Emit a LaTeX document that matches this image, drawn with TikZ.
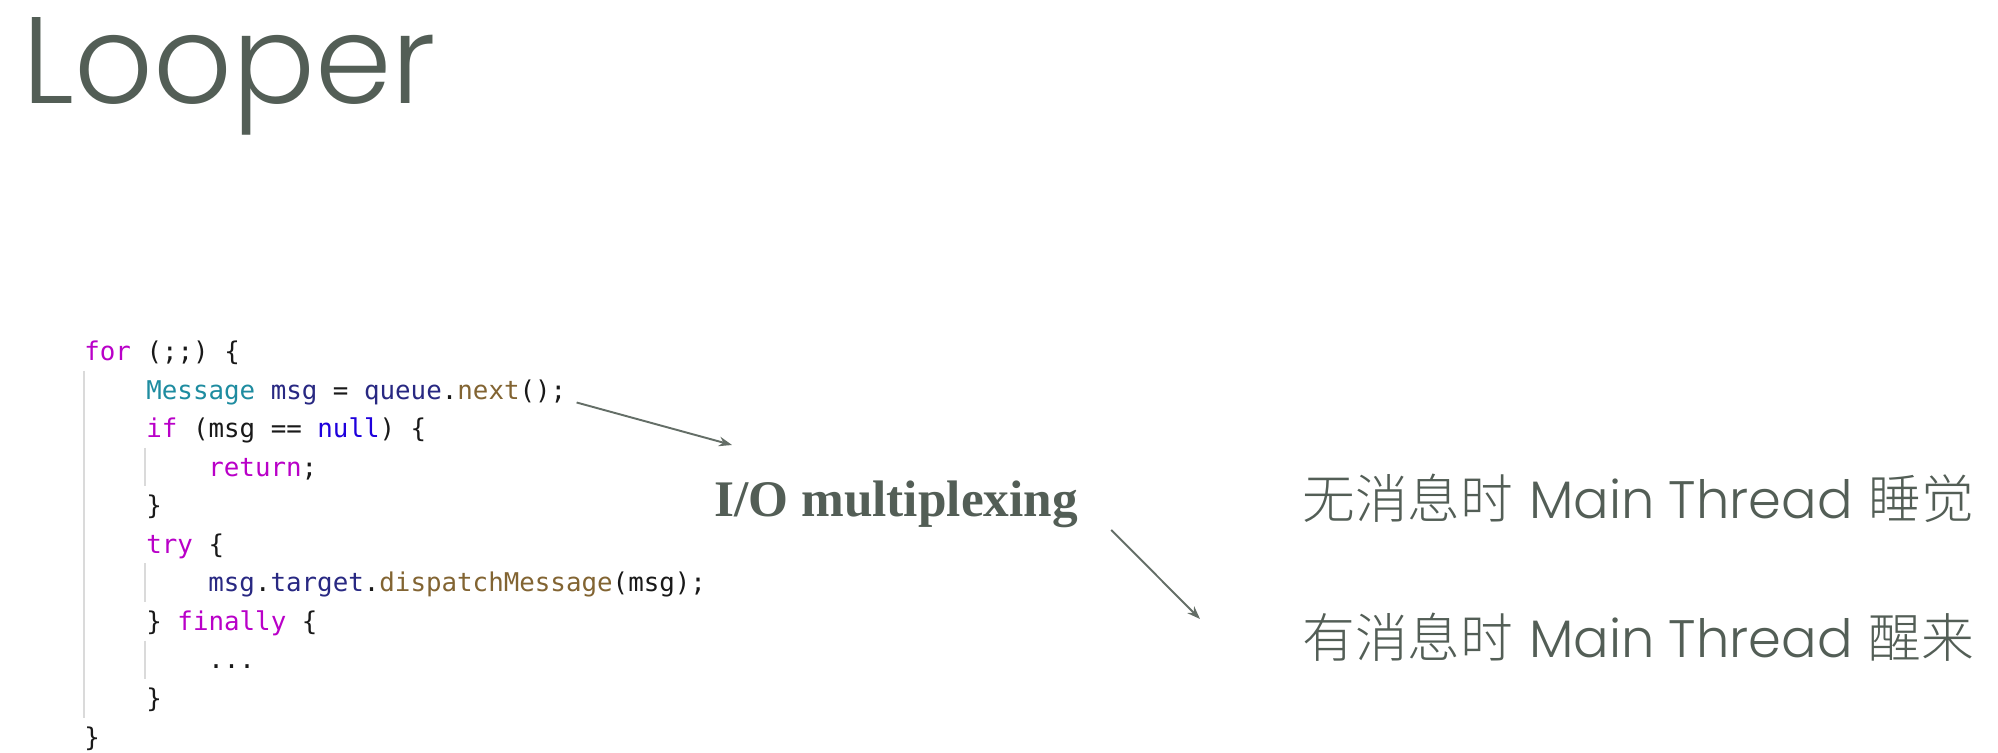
\documentclass[tikz,border=0pt]{standalone}
\usepackage{fontspec}
\usepackage{tikz}
\usetikzlibrary{arrows.meta, positioning, calc}
\setmonofont{DejaVu Sans Mono}
\newfontfamily\gothicfont{Poppins}[UprightFont=* Light]
\newfontfamily\cjkfont{Noto Sans CJK SC}[UprightFont=* Light]
\newfontfamily\boldserif{Liberation Serif}
\definecolor{grisverde}{RGB}{83,94,86}
\definecolor{flecha}{RGB}{100,110,103}
\definecolor{guia}{RGB}{218,218,218}
\definecolor{kwcolor}{RGB}{185,0,200}
\definecolor{typecolor}{RGB}{30,140,160}
\definecolor{varcolor}{RGB}{40,40,130}
\definecolor{nullcolor}{RGB}{30,0,220}
\definecolor{callcolor}{RGB}{130,100,50}
\newcommand{\kw}[1]{\textcolor{kwcolor}{#1}}
\newcommand{\ty}[1]{\textcolor{typecolor}{#1}}
\newcommand{\va}[1]{\textcolor{varcolor}{#1}}
\newcommand{\nl}[1]{\textcolor{nullcolor}{#1}}
\newcommand{\fn}[1]{\textcolor{callcolor}{#1}}
\tikzset{>={Stealth[length=7.5pt,width=5.5pt]}}

\begin{document}
\begin{tikzpicture}[
		code/.style={inner sep=0, anchor=base west, text=black!90, font=\ttfamily\fontsize{14.7}{17}\selectfont},
		msgline/.style={inner sep=0, anchor=base west, text=grisverde, font=\fontsize{30}{34}\selectfont},
		guide/.style={guia, line width=1.1pt}]
				
				\useasboundingbox (0,0) rectangle (39.96,15.04);
				
				\node [inner sep=0, anchor=base west, text=grisverde, font=\gothicfont\fontsize{70}{80}\selectfont] (title) at (0.44,12.96) {Looper};
				
				% code lines
				\node [code] (l0) at (1.68,7.82) {\kw{for} (;;) \{};
				\node [code] (lnext) at (2.92,7.05) {\ty{Message} \va{msg} = \va{queue}.\fn{next}();};
				\node [code] (l2) at (2.92,6.28) {\kw{if} (msg == \nl{null}) \{};
				\node [code] (l3) at (4.16,5.51) {\kw{return};};
				\node [code] (l4) at (2.92,4.74) {\}};
				\node [code] (l5) at (2.92,3.97) {\kw{try} \{};
				\node [code] (l6) at (4.16,3.20) {\va{msg}.\va{target}.\fn{dispatchMessage}(msg);};
				\node [code] (l7) at (2.92,2.43) {\} \kw{finally} \{};
				\node [code] (l8) at (4.16,1.66) {...};
				\node [code] (l9) at (2.92,0.89) {\}};
				\node [code] (l10) at (1.68,0.12) {\}};
				
				\draw [guide] (1.68,7.62) -- (1.68,0.69);
				\draw [guide] (2.90,6.08) -- (2.90,5.31);
				\draw [guide] (2.90,3.77) -- (2.90,3.00);
				\draw [guide] (2.90,2.23) -- (2.90,1.46);
				
				\node [inner sep=0, anchor=base west, text=grisverde, font=\boldserif\bfseries\fontsize{29.2}{33}\selectfont] (mux) at (14.28,4.70) {I/O multiplexing};
				
				\node [msgline] (sleep) at (26.04,4.66) {{\cjkfont 无消息时} {\gothicfont Main Thread} {\cjkfont 睡觉}};
				\node [msgline] (wake) at (26.04,1.90) {{\cjkfont 有消息时} {\gothicfont Main Thread} {\cjkfont 醒来}};
				
				\draw [flecha, line width=1.1pt, ->] ([xshift=0.2cm, yshift=-0.06cm]lnext.base east) -- ([xshift=0.36cm, yshift=1.44cm]mux.base west);
				\draw [flecha, line width=1.1pt, ->] ([xshift=0.66cm, yshift=-0.26cm]mux.base east) -- ([xshift=-2.04cm, yshift=0.76cm]wake.base west);
				\end{tikzpicture}
\end{document}
